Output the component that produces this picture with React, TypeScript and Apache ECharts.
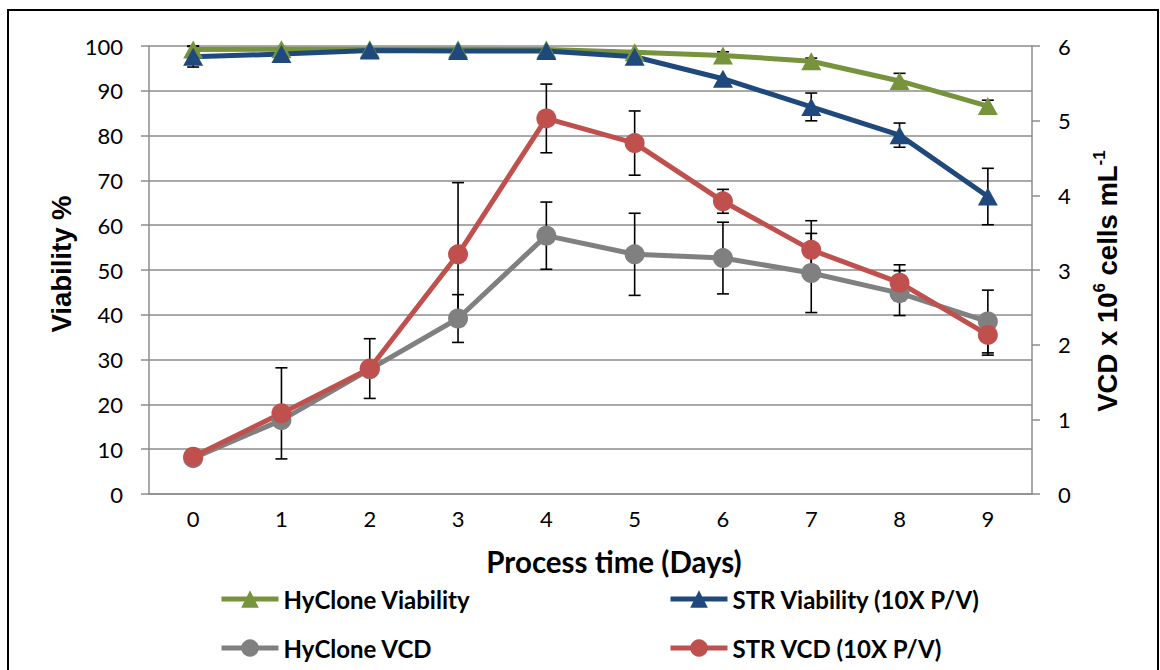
import React, { useEffect, useRef } from "react";
import * as echarts from "echarts";

// Process time (days)
const days = ["0", "1", "2", "3", "4", "5", "6", "7", "8", "9"];

// Viability (%) – left axis
const hyViability = [99.2, 99.3, 99.3, 99.3, 99.2, 98.6, 97.9, 96.6, 92.2, 86.6];
const hyViabilityErr = [0.8, null, null, null, null, null, 0.8, 0.7, 1.7, 1.3];
const strViability = [97.6, 98.2, 99.0, 98.9, 98.9, 97.6, 92.7, 86.4, 80.1, 66.4];
const strViabilityErr = [2.3, null, null, null, null, null, null, 3.1, 2.7, 6.3];

// Viable cell density (10^6 cells/mL) – right axis
const hyVcd = [0.48, 0.99, 1.67, 2.35, 3.46, 3.21, 3.16, 2.96, 2.69, 2.31];
const hyVcdErr = [null, null, null, 0.32, 0.45, 0.55, 0.48, 0.53, 0.3, 0.42];
const strVcd = [0.5, 1.08, 1.68, 3.21, 5.03, 4.7, 3.92, 3.27, 2.83, 2.13];
const strVcdErr = [null, 0.61, 0.4, 0.96, 0.46, 0.43, 0.16, 0.39, 0.24, 0.27];

const GREEN = "#77933C";
const BLUE = "#1F497D";
const GRAY = "#808080";
const RED = "#C0504D";
const GRID = "#8c8c8c";
const FONT = "Lato";

function errorRows(values: number[], errs: (number | null)[]) {
  const rows: number[][] = [];
  values.forEach((v, i) => {
    const e = errs[i];
    if (e != null) rows.push([i, v - e, v + e]);
  });
  return rows;
}

function renderErrorBar(_params: any, api: any) {
  const x = api.value(0);
  const lo = api.coord([x, api.value(1)]);
  const hi = api.coord([x, api.value(2)]);
  const cap = 6;
  const style = { stroke: "#000", lineWidth: 1.6 };
  return {
    type: "group",
    children: [
      { type: "line", shape: { x1: lo[0], y1: lo[1], x2: hi[0], y2: hi[1] }, style },
      { type: "line", shape: { x1: lo[0] - cap, y1: lo[1], x2: lo[0] + cap, y2: lo[1] }, style },
      { type: "line", shape: { x1: hi[0] - cap, y1: hi[1], x2: hi[0] + cap, y2: hi[1] }, style },
    ],
  };
}

function lineSeries(name: string, data: number[], yAxisIndex: number, color: string, symbol: string, symbolSize: any) {
  return {
    name,
    type: "line",
    yAxisIndex,
    data,
    symbol,
    symbolSize,
    showSymbol: true,
    lineStyle: { width: 5, color },
    itemStyle: { color },
    emphasis: { disabled: true },
  };
}

function errorSeries(rows: number[][], yAxisIndex: number) {
  return {
    type: "custom",
    yAxisIndex,
    data: rows,
    encode: { x: 0, y: [1, 2] },
    renderItem: renderErrorBar,
    silent: true,
  };
}

export default function App() {
  const ref = useRef<HTMLDivElement>(null);

  useEffect(() => {
    if (!ref.current) return;
    const chart = echarts.init(ref.current, undefined, { renderer: "svg" });

    const legendText = { fontFamily: FONT, fontWeight: "bold", fontSize: 24, color: "#000" };
    const axisLine = { show: true, lineStyle: { color: GRID, width: 1.5 } };
    const tickLabel = { fontFamily: FONT, fontSize: 22, color: "#000" };
    const legendBase = {
      orient: "vertical",
      top: 582,
      itemWidth: 57,
      itemHeight: 22,
      itemGap: 25,
      selectedMode: false,
      lineStyle: { width: 5 },
      textStyle: legendText,
    };

    chart.setOption({
      animation: false,
      backgroundColor: "#fff",
      grid: { left: 149, right: 128, top: 46, bottom: 176, containLabel: false },
      xAxis: {
        type: "category",
        data: days,
        boundaryGap: true,
        axisLine,
        axisTick: { show: false },
        axisLabel: { ...tickLabel, margin: 13 },
        splitLine: { show: false },
      },
      yAxis: [
        {
          type: "value",
          position: "left",
          min: 0,
          max: 100,
          interval: 10,
          axisLine,
          axisTick: { show: true, length: 8, lineStyle: { color: GRID, width: 1.5 } },
          axisLabel: { ...tickLabel, margin: 26 },
          splitLine: { show: true, lineStyle: { color: GRID, width: 1.5 } },
        },
        {
          type: "value",
          position: "right",
          min: 0,
          max: 6,
          interval: 1,
          axisLine,
          axisTick: { show: true, length: 8, lineStyle: { color: GRID, width: 1.5 } },
          axisLabel: { ...tickLabel, margin: 26 },
          splitLine: { show: false },
        },
      ],
      legend: [
        { ...legendBase, data: ["HyClone Viability", "HyClone VCD"], left: 214 },
        { ...legendBase, data: ["STR Viability (10X P/V)", "STR VCD (10X P/V)"], left: 663 },
      ],
      graphic: [
        {
          type: "rect",
          shape: { x: 8, y: 10, width: 1150, height: 720 },
          style: { fill: "none", stroke: "#000", lineWidth: 2 },
          silent: true,
        },
        {
          type: "text",
          x: 61,
          y: 264,
          rotation: Math.PI / 2,
          style: {
            text: "Viability %",
            fontFamily: "Liberation Sans",
            fontWeight: "bold",
            fontSize: 27.5,
            fill: "#000",
            align: "center",
            verticalAlign: "middle",
          },
        },
        {
          type: "text",
          x: 1107,
          y: 281,
          rotation: Math.PI / 2,
          style: {
            text: "{b|VCD x 10}{s|6}{b| cells mL}{s|-1}",
            align: "center",
            verticalAlign: "middle",
            rich: {
              b: { fontFamily: "Liberation Sans", fontWeight: "bold", fontSize: 27.5, lineHeight: 32, fill: "#000", verticalAlign: "middle" },
              s: { fontFamily: "Liberation Sans", fontWeight: "bold", fontSize: 17, lineHeight: 32, fill: "#000", verticalAlign: "top" },
            },
          },
        },
        {
          type: "text",
          x: 614,
          y: 561,
          style: {
            text: "Process time (Days)",
            fontFamily: FONT,
            fontWeight: "bold",
            fontSize: 29.5,
            fill: "#000",
            align: "center",
            verticalAlign: "middle",
          },
        },
      ],
      series: [
        lineSeries("HyClone Viability", hyViability, 0, GREEN, "triangle", [20, 18]),
        errorSeries(errorRows(hyViability, hyViabilityErr), 0),
        lineSeries("STR Viability (10X P/V)", strViability, 0, BLUE, "triangle", [20, 18]),
        errorSeries(errorRows(strViability, strViabilityErr), 0),
        lineSeries("HyClone VCD", hyVcd, 1, GRAY, "circle", 20),
        errorSeries(errorRows(hyVcd, hyVcdErr), 1),
        lineSeries("STR VCD (10X P/V)", strVcd, 1, RED, "circle", 20),
        errorSeries(errorRows(strVcd, strVcdErr), 1),
      ],
    });

    return () => chart.dispose();
  }, []);

  return (
    <div
      ref={ref}
      style={{ position: "absolute", left: 0, top: 0, width: 1160, height: 670 }}
    />
  );
}
